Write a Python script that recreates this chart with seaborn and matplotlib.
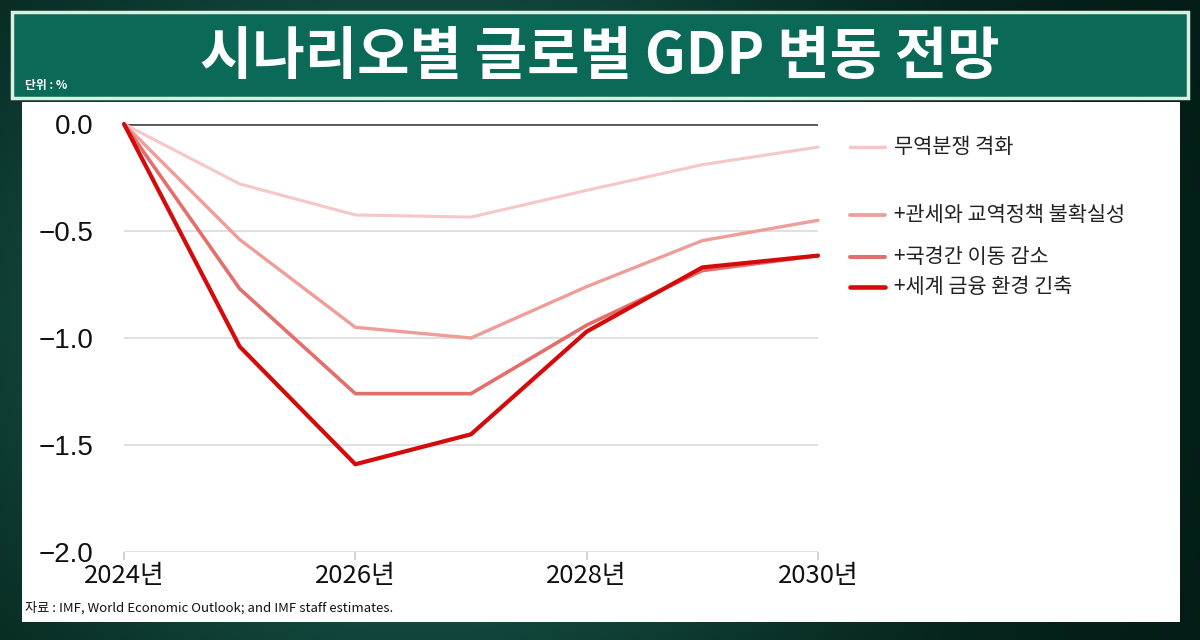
import numpy as np
import pandas as pd
import matplotlib
matplotlib.use("Agg")
import matplotlib.pyplot as plt
import seaborn as sns
from matplotlib.patches import Rectangle
from matplotlib.lines import Line2D

# ---- data ----
years = [2024, 2025, 2026, 2027, 2028, 2029, 2030]
trade_war = [0.0, -0.28, -0.425, -0.435, -0.31, -0.19, -0.108]
tariff_uncert = [0.0, -0.54, -0.95, -1.00, -0.76, -0.545, -0.45]
migration = [0.0, -0.77, -1.26, -1.26, -0.94, -0.685, -0.615]
financial = [0.0, -1.04, -1.59, -1.45, -0.97, -0.67, -0.615]
series_names = ["무역분쟁 격화", "+관세와 교역정책 불확실성", "+국경간 이동 감소", "+세계 금융 환경 긴축"]
xtick_years = [2024, 2026, 2028, 2030]
xtick_labels = ["2024년", "2026년", "2028년", "2030년"]
ytick_vals = [0.0, -0.5, -1.0, -1.5, -2.0]
ytick_labels = ["0.0", "−0.5", "−1.0", "−1.5", "−2.0"]
title = "시나리오별 글로벌 GDP 변동 전망"
unit = "단위 : %"
source = "자료 : IMF, World Economic Outlook; and IMF staff estimates."

df = pd.DataFrame({
    "year": years * 4,
    "value": trade_war + tariff_uncert + migration + financial,
    "scenario": sum([[n] * len(years) for n in series_names], []),
})

colors = ["#f7c6c6", "#ee9d99", "#e36f6d", "#d50a0a"]
widths = [2.2, 2.4, 2.6, 3.0]
legend_y = [147, 215, 257, 287]

sns.set_theme(style="white")
plt.rcParams['font.family'] = ['Noto Sans CJK KR', 'DejaVu Sans']

W, H = 1200, 640
fig = plt.figure(figsize=(12, 6.4), dpi=100)

def fx(px):
    return px / W

def fy(py):
    return 1 - py / H

# background gradient
ax_bg = fig.add_axes([0, 0, 1, 1], zorder=-10)
gx = np.linspace(0, 1, 300)
gy = np.linspace(0, 1, 160)
X, Y = np.meshgrid(gx, gy)
t = np.exp(-((X - 0.35) ** 2) / 0.15 - ((Y - 0.5) ** 2) / 0.4)
dark = np.array([0.01, 0.10, 0.08])
light = np.array([0.12, 0.42, 0.36])
img = dark[None, None, :] * (1 - t[..., None]) + light[None, None, :] * t[..., None]
ax_bg.imshow(img, aspect="auto", extent=[0, 1, 0, 1])
ax_bg.axis("off")

# title banner
fig.add_artist(Rectangle((fx(12), fy(98)), fx(1176), 86 / H, transform=fig.transFigure,
                         facecolor="#0a6a57", edgecolor="#d6f0e2", lw=2.5, zorder=1))
fig.text(0.5, fy(57), title, ha="center", va="center", color="white",
         fontsize=41, fontweight="bold", family=['Noto Sans CJK KR', 'DejaVu Sans'], zorder=2)
fig.text(fx(25), fy(85), unit, ha="left", va="center", color="white", fontsize=8.5,
         fontweight="bold", zorder=2)

# white panel
fig.add_artist(Rectangle((fx(22), fy(622)), fx(1180 - 22), (622 - 102) / H, transform=fig.transFigure,
                         facecolor="white", edgecolor="none", zorder=1))

ax = fig.add_axes([fx(124), fy(552), fx(818 - 124), (552 - 124) / H], zorder=3)
ax.set_facecolor("none")

for name, c, lw in zip(series_names, colors, widths):
    sub = df[df["scenario"] == name]
    sns.lineplot(data=sub, x="year", y="value", ax=ax, color=c, linewidth=lw,
                 legend=False, clip_on=False, zorder=3)

ax.set_xlim(2024, 2030)
ax.set_ylim(-2.0, 0.0)
for s in ax.spines.values():
    s.set_visible(False)
ax.set_yticks(ytick_vals)
ax.set_yticklabels(ytick_labels, family=['Liberation Sans'], fontsize=20, color="#111111")
ax.set_xticks(xtick_years)
ax.set_xticklabels(xtick_labels, fontsize=18.5, color="#111111")
ax.tick_params(axis="y", length=0, pad=22)
ax.tick_params(axis="x", bottom=True, direction="out", length=6, width=1.3, color="#d0d0d0", pad=2)
ax.yaxis.grid(True, color="#dddddd", linewidth=1.3)
ax.xaxis.grid(False)
ax.axhline(0, color="#555555", linewidth=2.0, zorder=2)
ax.set_xlabel("")
ax.set_ylabel("")

# legend
for name, c, lw, ly in zip(series_names, colors, widths, legend_y):
    fig.add_artist(Line2D([fx(850), fx(885)], [fy(ly), fy(ly)], transform=fig.transFigure,
                          color=c, linewidth=lw + 0.3, zorder=4))
    fig.text(fx(894), fy(ly), name, ha="left", va="center", fontsize=15, color="#222222",
             fontweight="medium", zorder=4)

fig.text(fx(25), fy(608), source, ha="left", va="center", fontsize=9.5, color="#111111", zorder=4)

fig.savefig("out.png", dpi=100)
